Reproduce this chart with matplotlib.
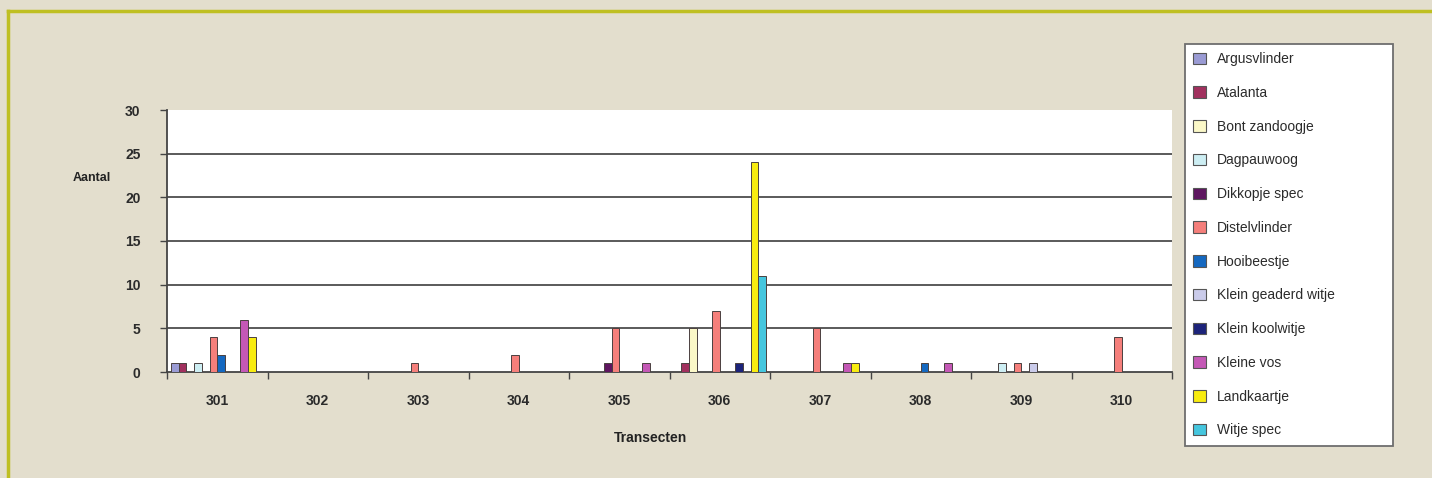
import numpy as np
import matplotlib
matplotlib.use("Agg")
import matplotlib.pyplot as plt
from matplotlib.patches import Patch

plt.rcParams['font.family'] = ['Liberation Sans', 'DejaVu Sans']

transecten = ['301', '302', '303', '304', '305', '306', '307', '308', '309', '310']
soorten = ['Argusvlinder', 'Atalanta', 'Bont zandoogje', 'Dagpauwoog', 'Dikkopje spec',
           'Distelvlinder', 'Hooibeestje', 'Klein geaderd witje', 'Klein koolwitje',
           'Kleine vos', 'Landkaartje', 'Witje spec']

# aantallen per soort, per transect 301..310
argusvlinder = [1, 0, 0, 0, 0, 0, 0, 0, 0, 0]
atalanta = [1, 0, 0, 0, 0, 1, 0, 0, 0, 0]
bont_zandoogje = [0, 0, 0, 0, 0, 5, 0, 0, 0, 0]
dagpauwoog = [1, 0, 0, 0, 0, 0, 0, 0, 1, 0]
dikkopje_spec = [0, 0, 0, 0, 1, 0, 0, 0, 0, 0]
distelvlinder = [4, 0, 1, 2, 5, 7, 5, 0, 1, 4]
hooibeestje = [2, 0, 0, 0, 0, 0, 0, 1, 0, 0]
klein_geaderd_witje = [0, 0, 0, 0, 0, 0, 0, 0, 1, 0]
klein_koolwitje = [0, 0, 0, 0, 0, 1, 0, 0, 0, 0]
kleine_vos = [6, 0, 0, 0, 1, 0, 1, 1, 0, 0]
landkaartje = [4, 0, 0, 0, 0, 24, 1, 0, 0, 0]
witje_spec = [0, 0, 0, 0, 0, 11, 0, 0, 0, 0]

reeksen = [argusvlinder, atalanta, bont_zandoogje, dagpauwoog, dikkopje_spec,
           distelvlinder, hooibeestje, klein_geaderd_witje, klein_koolwitje,
           kleine_vos, landkaartje, witje_spec]
kleuren = ['#9A9BD4', '#A1305E', '#FBF8C8', '#CDEEF3', '#5E1660', '#F57F7B',
           '#1468C0', '#CACBEA', '#1C237A', '#C458B6', '#F8EC10', '#45C6DE']

bg = '#E3DECD'
fig = plt.figure(figsize=(14.32, 4.78), dpi=100, facecolor=bg)

# olijfgroene rand boven en links
fig.add_artist(plt.Line2D([8 / 1432, 1], [1 - 11 / 478, 1 - 11 / 478], color='#BFBF22', lw=2.5))
fig.add_artist(plt.Line2D([8 / 1432, 8 / 1432], [0, 1 - 11 / 478], color='#BFBF22', lw=2.5))

ax = fig.add_axes([167 / 1432, 1 - 372 / 478, 1005 / 1432, 262 / 478])
ax.set_facecolor('white')

n = len(reeksen)
w = 0.92 / n
x = np.arange(len(transecten))
for k, (vals, kl) in enumerate(zip(reeksen, kleuren)):
    vals = np.array(vals, dtype=float)
    vals[vals == 0] = np.nan
    ax.bar(x + 0.04 + k * w, vals, width=w, align='edge', color=kl,
           edgecolor='#4a4040', linewidth=0.7, zorder=3)

ax.set_xlim(0, len(transecten))
ax.set_ylim(0, 30)
ax.set_yticks(range(0, 31, 5))
for yv in range(5, 30, 5):
    ax.axhline(yv, color='#4d4d4d', lw=1.3, zorder=1)

ax.set_xticks(range(len(transecten) + 1))
ax.set_xticklabels([])
ax.set_xticks(x + 0.5, minor=True)
ax.set_xticklabels(transecten, minor=True)
ax.tick_params(axis='x', which='major', direction='out', length=5, color='#444', width=1)
ax.tick_params(axis='x', which='minor', length=0, pad=16, labelsize=10, labelcolor='#2b2b2b')
ax.tick_params(axis='y', direction='out', length=5, color='#444', width=1,
               labelsize=10, labelcolor='#2b2b2b', pad=14)
for lbl in ax.get_xticklabels(minor=True) + ax.get_yticklabels():
    lbl.set_fontweight('bold')

for s in ['top', 'right']:
    ax.spines[s].set_visible(False)
for s in ['left', 'bottom']:
    ax.spines[s].set_color('#444')
    ax.spines[s].set_linewidth(1.3)

fig.text(92 / 1432, 1 - 178 / 478, 'Aantal', ha='center', va='center',
         fontsize=9, fontweight='bold', color='#222')
fig.text(650 / 1432, 1 - 438 / 478, 'Transecten', ha='center', va='center',
         fontsize=10, fontweight='bold', color='#222')

handles = [Patch(facecolor=kl, edgecolor='#555', linewidth=0.8) for kl in kleuren]
leg = fig.legend(handles, soorten, loc='upper left', mode='expand',
                 bbox_to_anchor=(1185 / 1432, 1 - 440 / 478, 208 / 1432, 396 / 478),
                 bbox_transform=fig.transFigure,
                 fontsize=10, frameon=True, fancybox=False, framealpha=1, borderpad=0.6,
                 labelspacing=1.42, handlelength=0.9, handleheight=0.9, handletextpad=0.8,
                 borderaxespad=0)
leg.get_frame().set_facecolor('white')
leg.get_frame().set_edgecolor('#6e6e6e')
leg.get_frame().set_linewidth(1.3)
for t in leg.get_texts():
    t.set_color('#2b2b2b')

fig.savefig('out.png', dpi=100, facecolor=bg)
